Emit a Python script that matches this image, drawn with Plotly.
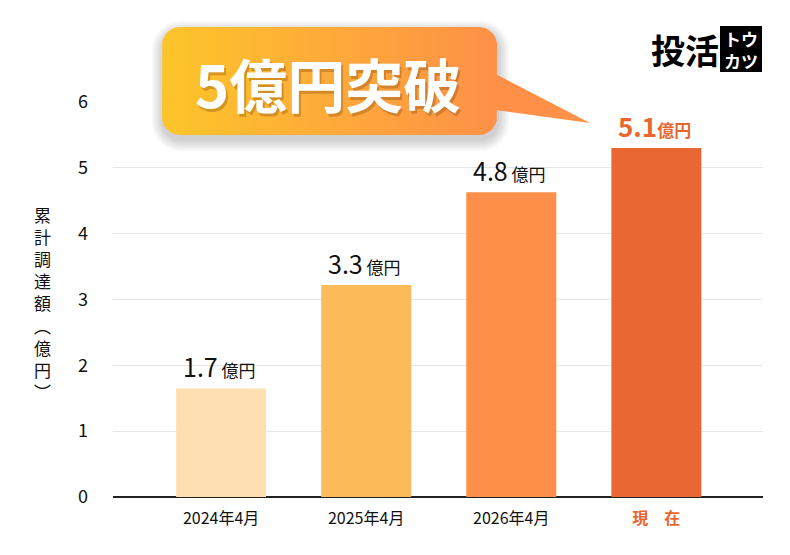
import numpy as np
import plotly.graph_objects as go

categories = ["2024年4月", "2025年4月", "2026年4月", "現在"]
tick_labels = ["2024年4月", "2025年4月", "2026年4月",
               "<span style='color:#E8672F'><b>現　在</b></span>"]
values = [1.65, 3.22, 4.63, 5.30]
value_labels = ["1.7", "3.3", "4.8", "5.1"]
bar_colors = ["#FEDFB2", "#FDBB5A", "#FE8F4A", "#E86732"]
y_ticks = [0, 1, 2, 3, 4, 5, 6]
y_title_chars = ["累", "計", "調", "達", "額", "︵", "億", "円", "︶"]
callout_text = "5億円突破"

W, H = 790, 555
FONT = "Noto Sans CJK JP"

fig = go.Figure()
fig.add_trace(go.Bar(x=categories, y=values, marker_color=bar_colors,
                     marker_line_width=0, width=0.62, showlegend=False,
                     hoverinfo="skip"))

# value labels
for i, (c, v, t) in enumerate(zip(categories, values, value_labels)):
    if i == len(categories) - 1:
        txt = f"<b>{t}<span style='font-size:17px'>億円</span></b>"
        col = "#E8672F"
        size = 26
    else:
        txt = f"{t}<span style='font-size:17px'> 億円</span>"
        col = "#111111"
        size = 25
    fig.add_annotation(x=c, y=v, xref="x", yref="y", text=txt, showarrow=False,
                       yanchor="bottom", yshift=2, xshift=-2,
                       font=dict(size=size, color=col, family=FONT))

# --- callout (pixel overlay axes) ---
def rrect(x0, y0, x1, y1, r, n=10):
    pts = []
    corners = [(x1 - r, y0 + r, -90, 0), (x1 - r, y1 - r, 0, 90),
               (x0 + r, y1 - r, 90, 180), (x0 + r, y0 + r, 180, 270)]
    for cx, cy, a0, a1 in corners:
        for a in np.linspace(np.radians(a0), np.radians(a1), n):
            pts.append((cx + r * np.cos(a), cy + r * np.sin(a)))
    pts.append(pts[0])
    xs, ys = zip(*pts)
    return list(xs), list(ys)

bx0, by0, bx1, by1 = 162, 27, 497, 135
# shadow
for k in range(6):
    e = 1 + k * 2.0
    xs, ys = rrect(bx0 - e + 1, by0 - e + 5, bx1 + e + 1, by1 + e + 5, 18 + e)
    fig.add_trace(go.Scatter(x=xs, y=ys, xaxis="x2", yaxis="y2", mode="lines",
                             fill="toself", fillcolor="rgba(0,0,0,0.03)",
                             line=dict(width=0), hoverinfo="skip", showlegend=False))
# pointer
fig.add_trace(go.Scatter(x=[480, 590, 480, 480], y=[66, 123, 108, 66],
                         xaxis="x2", yaxis="y2", mode="lines", fill="toself",
                         fillcolor="#FE9048", line=dict(width=0),
                         hoverinfo="skip", showlegend=False))
xs, ys = rrect(bx0, by0, bx1, by1, 18)
fig.add_trace(go.Scatter(x=xs, y=ys, xaxis="x2", yaxis="y2", mode="lines",
                         fill="toself",
                         fillgradient=dict(type="horizontal",
                                           colorscale=[[0, "#FDC52A"], [1, "#FE9048"]]),
                         line=dict(width=0), hoverinfo="skip", showlegend=False))

cx, cy = 328, 83
fig.add_annotation(x=cx + 2, y=cy + 3, xref="x2", yref="y2", text=f"<b>{callout_text}</b>",
                   showarrow=False, font=dict(size=58, color="rgba(120,60,0,0.30)", family=FONT))
fig.add_annotation(x=cx, y=cy, xref="x2", yref="y2", text=f"<b>{callout_text}</b>",
                   showarrow=False, font=dict(size=58, color="white", family=FONT))

# logo
fig.add_annotation(x=685, y=49, xref="x2", yref="y2", text="<b>投活</b>", showarrow=False,
                   font=dict(size=34, color="black", family=FONT))
fig.add_shape(type="rect", xref="x2", yref="y2", x0=720, x1=762, y0=26, y1=72,
              fillcolor="black", line_width=0)
fig.add_annotation(x=741, y=49, xref="x2", yref="y2", text="<b>トウ<br>カツ</b>",
                   showarrow=False, font=dict(size=17, color="white", family=FONT))

# y title
fig.add_annotation(x=42, y=303, xref="x2", yref="y2", text="<br>".join(y_title_chars),
                   showarrow=False, align="center",
                   font=dict(size=17, color="#111111", family=FONT))

fig.update_layout(
    width=W, height=H, margin=dict(l=0, r=0, t=0, b=0, autoexpand=False),
    paper_bgcolor="white", plot_bgcolor="rgba(0,0,0,0)",
    font=dict(family=FONT, color="#111111"),
    xaxis=dict(domain=[113 / W, 763 / W], range=[-0.745, 3.735], automargin=False,
               tickmode="array", tickvals=categories, ticktext=tick_labels,
               tickfont=dict(size=16, color="#111111"), showgrid=False,
               showline=False, ticks="", ticklabelstandoff=10, anchor="y"),
    yaxis=dict(domain=[(H - 497) / H, (H - 102) / H], range=[0, 6], automargin=False,
               tickvals=y_ticks, showgrid=True, gridcolor="#E6E6E6", gridwidth=1,
               zeroline=True, zerolinecolor="#222222", zerolinewidth=2,
               tickfont=dict(size=18, color="#111111"), ticks="",
               ticklabelstandoff=24, anchor="x"),
    xaxis2=dict(domain=[0, 1], range=[0, W], visible=False, anchor="y2",
                fixedrange=True, automargin=False, showgrid=False, zeroline=False),
    yaxis2=dict(domain=[0, 1], range=[H, 0], visible=False, anchor="x2",
                fixedrange=True, automargin=False, showgrid=False, zeroline=False),
)

fig.write_html("out.html")
